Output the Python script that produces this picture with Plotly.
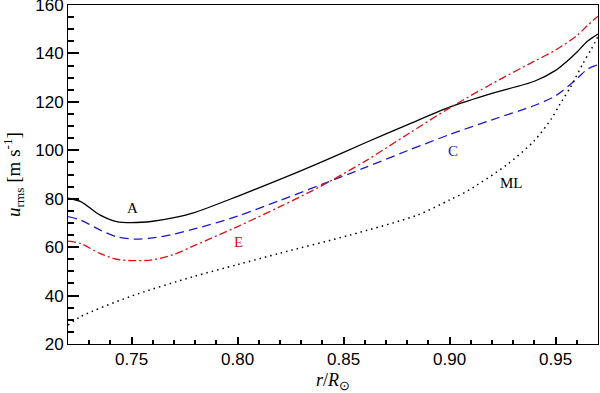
import plotly.graph_objects as go

# radius r/R_sun and rms velocities (m/s)
r_A = [0.72, 0.726, 0.735, 0.743, 0.75, 0.76, 0.77, 0.78, 0.80, 0.82, 0.84, 0.86, 0.88, 0.90, 0.92, 0.94, 0.95, 0.955, 0.96, 0.965, 0.97]
u_A = [80.2, 78.8, 73.3, 70.5, 70.1, 70.7, 72.2, 74.4, 81.0, 88.0, 95.3, 103.0, 110.5, 117.8, 123.5, 128.5, 133.0, 136.5, 140.5, 145.0, 148.0]

r_C = [0.72, 0.726, 0.735, 0.743, 0.752, 0.76, 0.77, 0.78, 0.80, 0.82, 0.84, 0.86, 0.88, 0.90, 0.92, 0.94, 0.95, 0.96, 0.965, 0.97]
u_C = [72.6, 71.2, 67.1, 64.3, 63.3, 63.8, 65.4, 67.6, 72.8, 79.3, 86.0, 92.8, 99.8, 106.5, 112.6, 118.5, 122.5, 129.5, 133.5, 135.3]

r_E = [0.72, 0.726, 0.735, 0.743, 0.751, 0.76, 0.77, 0.78, 0.80, 0.82, 0.84, 0.86, 0.88, 0.90, 0.92, 0.94, 0.95, 0.96, 0.965, 0.97]
u_E = [62.5, 61.5, 57.4, 55.0, 54.4, 54.8, 57.0, 60.8, 68.5, 76.7, 85.5, 95.4, 106.5, 117.5, 127.5, 136.8, 141.4, 147.3, 151.5, 155.4]

r_ML = [0.72, 0.726, 0.749, 0.779, 0.80, 0.82, 0.853, 0.885, 0.90, 0.908, 0.927, 0.94, 0.948, 0.952, 0.957, 0.963, 0.967, 0.97]
u_ML = [27.8, 31.3, 39.5, 47.8, 52.8, 57.5, 65.0, 73.3, 79.5, 83.0, 94.0, 104.0, 113.0, 119.0, 126.0, 136.0, 142.0, 147.0]

x_range = [0.72, 0.97]
y_range = [20, 160]

labels = ["A", "E", "C", "ML"]
label_r = [0.7505, 0.8005, 0.9015, 0.929]
label_u = [76.1, 62.1, 99.9, 86.3]
label_col = ["black", "#e01010", "#1a1acc", "black"]

fig = go.Figure()
fig.add_trace(go.Scatter(x=r_A, y=u_A, mode="lines", line=dict(color="black", width=1.3, shape="spline", smoothing=0.8)))
fig.add_trace(go.Scatter(x=r_C, y=u_C, mode="lines", line=dict(color="#1a1acc", width=1.3, dash="9px,5px", shape="spline", smoothing=0.8)))
fig.add_trace(go.Scatter(x=r_E, y=u_E, mode="lines", line=dict(color="#e01010", width=1.3, dash="8px,3px,2px,3px", shape="spline", smoothing=0.8)))
fig.add_trace(go.Scatter(x=r_ML, y=u_ML, mode="lines", line=dict(color="black", width=1.5, dash="1.5px,4px", shape="spline", smoothing=0.8)))

for t, x, y, c in zip(labels, label_r, label_u, label_col):
    fig.add_annotation(x=x, y=y, text=t, showarrow=False,
                       font=dict(family="Liberation Serif", size=15, color=c))

tfont = dict(family="Liberation Sans", size=17, color="black")
xminor = dict(dtick=0.01, tick0=0.72, ticks="inside", ticklen=4, tickcolor="black")
yminor = dict(dtick=5, tick0=20, ticks="inside", ticklen=6, tickcolor="black")

fig.update_layout(
    width=600, height=393, showlegend=False, template="simple_white",
    margin=dict(l=68, r=2, t=5, b=49),
    xaxis=dict(range=x_range, tick0=0.75, dtick=0.05, tickformat=".2f",
               showline=True, linecolor="black", mirror=True,
               ticks="inside", ticklen=7, tickwidth=1.5, tickcolor="black",
               minor=xminor, showgrid=False, zeroline=False, automargin=False,
               tickfont=tfont,
               title=dict(text="<i>r</i>/<i>R</i><sub>⊙</sub>",
                          font=dict(family="Liberation Serif", size=18, color="black"))),
    yaxis=dict(range=y_range, tick0=20, dtick=20,
               showline=True, linecolor="black", mirror=True,
               ticks="inside", ticklen=11, tickwidth=1.5, tickcolor="black",
               minor=yminor, showgrid=False, zeroline=False, automargin=False,
               tickfont=tfont, ticklabeloverflow="allow",
               title=dict(text="<i>u</i><sub>rms</sub> [m s<sup>-1</sup>]",
                          font=dict(family="Liberation Serif", size=19, color="black"))),
    # second pair of axes only to repeat the inward ticks on top and right
    xaxis2=dict(range=x_range, tick0=0.75, dtick=0.05, overlaying="x", side="top", anchor="y",
                showline=False, ticks="inside", ticklen=7, tickwidth=1.5, tickcolor="black",
                minor=xminor, showticklabels=False, showgrid=False, zeroline=False, automargin=False),
    yaxis2=dict(range=y_range, tick0=20, dtick=20, overlaying="y", side="right", anchor="x",
                showline=False, ticks="inside", ticklen=11, tickwidth=1.5, tickcolor="black",
                minor=yminor, showticklabels=False, showgrid=False, zeroline=False, automargin=False),
)

fig.write_html("out.html", config={"displayModeBar": False},
               post_script="document.body.style.margin='0';")
